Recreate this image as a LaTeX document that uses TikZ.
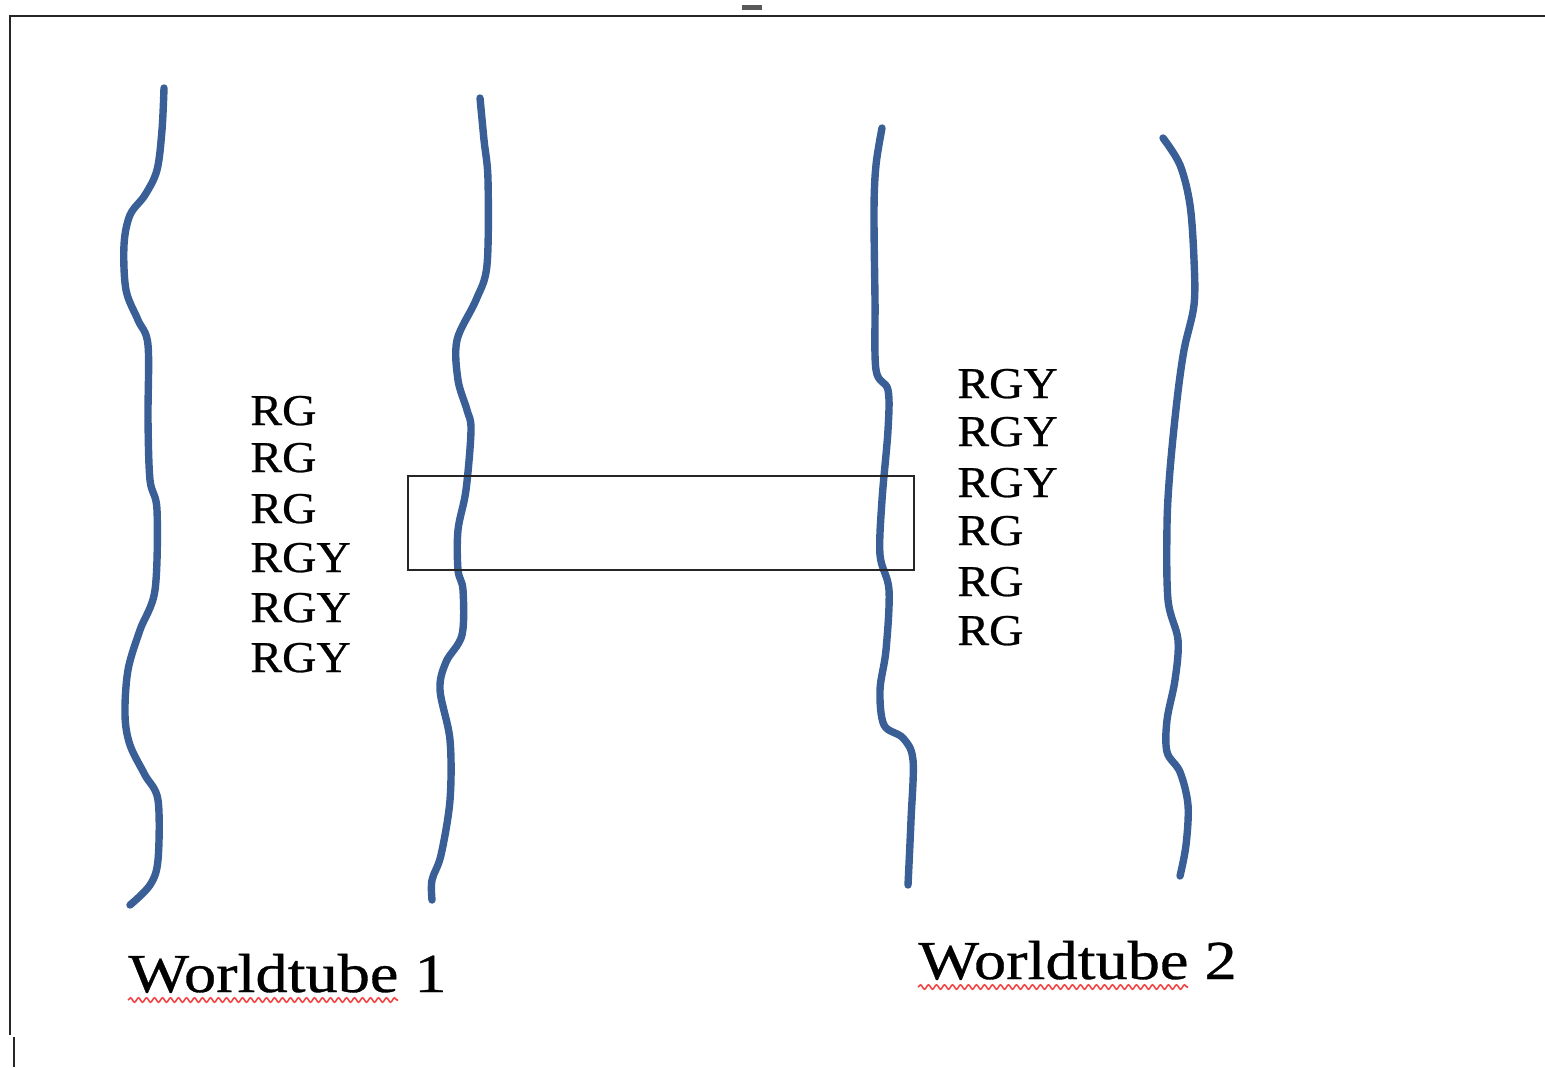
\documentclass[tikz,border=0pt]{standalone}
\usepackage{fontspec}
\setmainfont{Liberation Serif}
\newfontfamily\lblfont[FakeStretch=1.08,FakeBold=0.6]{Liberation Serif}
\newfontfamily\titlefont[FakeStretch=1.17,FakeBold=0.6]{Liberation Serif}
\usetikzlibrary{decorations.pathmorphing}
\definecolor{tubeblue}{RGB}{58,95,150}
\definecolor{spellred}{RGB}{240,70,70}
\begin{document}
\begin{tikzpicture}[x=0.5pt,y=-0.5pt,
  tube/.style={draw=tubeblue,line width=3.7pt,line cap=round,line join=round},
  frame/.style={draw=black!85,line width=1.2pt},
  lbl/.style={anchor=base west,inner sep=0pt,font=\lblfont\fontsize{22}{26}\selectfont},
  title/.style={anchor=base west,inner sep=0pt,font=\titlefont\fontsize{27.5}{32}\selectfont},
  squig/.style={draw=spellred,line width=0.8pt,decorate,decoration={snake,amplitude=1.1pt,segment length=4pt}}]
\useasboundingbox (0,0) rectangle (1545,1067);
% frame
\draw[frame] (1545,16) -- (10,16) -- (10,1035);
\draw[frame] (14,1037) -- (14,1067);
\fill[black!65] (742,5) rectangle (762,10);
% worldtube lines
\draw[tube] plot[smooth,tension=0.55] coordinates {(164,88) (162,130) (157,170) (145,195) (130,215) (124,245) (126,290) (138,320) (148,345) (148,420) (150,480) (157,510) (155,590) (140,630) (128,670) (125,715) (130,745) (145,775) (158,800) (158,860) (150,885) (130,905)};
\draw[tube] plot[smooth,tension=0.55] coordinates {(480,98) (484,140) (488,180) (487,265) (476,300) (457,340) (458,380) (467,410) (471,430) (466,490) (458,530) (458,570) (463,590) (462,635) (446,662) (440,690) (450,740) (450,800) (441,855) (432,880) (432,900)};
\draw[tube] plot[smooth,tension=0.55] coordinates {(882,128) (876,165) (874,210) (875,300) (876,370) (888,390) (888,430) (882,500) (880,555) (889,590) (886,650) (880,690) (884,725) (903,738) (913,760) (911,820) (908,885)};
\draw[tube] plot[smooth,tension=0.55] coordinates {(1163,138) (1180,165) (1190,205) (1194,260) (1194,305) (1184,350) (1177,400) (1170,470) (1167,525) (1168,600) (1178,640) (1175,680) (1167,720) (1167,752) (1180,772) (1188,805) (1186,845) (1180,876)};
% box
\draw[frame,line width=1pt] (408,476) rectangle (914,570);
% labels worldtube 1
\node[lbl] (a1) at (250,425) {RG};
\node[lbl] (a2) at (250,472) {RG};
\node[lbl] (a3) at (250,523) {RG};
\node[lbl] (a4) at (250,572) {RGY};
\node[lbl] (a5) at (250,622) {RGY};
\node[lbl] (a6) at (250,672) {RGY};
% labels worldtube 2
\node[lbl] (b1) at (957,398) {RGY};
\node[lbl] (b2) at (957,446) {RGY};
\node[lbl] (b3) at (957,497) {RGY};
\node[lbl] (b4) at (957,545) {RG};
\node[lbl] (b5) at (957,596) {RG};
\node[lbl] (b6) at (957,645) {RG};
% titles
\node[title] (t1) at (128,992) {Worldtube 1};
\node[title] (t2) at (918,979) {Worldtube 2};
\draw[squig] (128,1000) -- (398,1000);
\draw[squig] (918,987) -- (1188,987);
\end{tikzpicture}
\end{document}
